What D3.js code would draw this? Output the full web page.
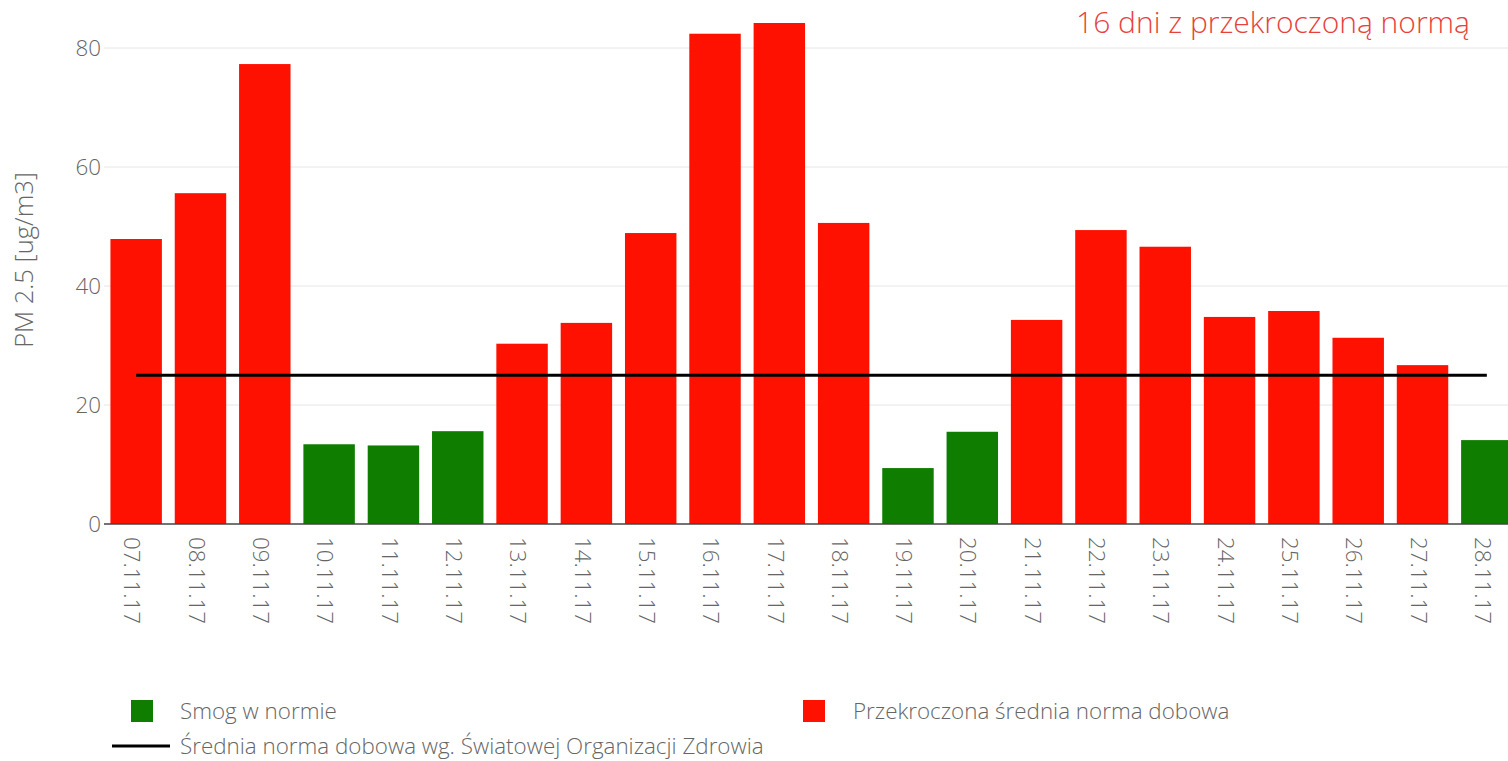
<!DOCTYPE html>
<html>
<head>
<meta charset="utf-8">
<script src="https://cdn.jsdelivr.net/npm/d3@7"></script>
<style>
  body { margin: 0; background: #fff; overflow: hidden; }
  text { font-family: "Open Sans", sans-serif; font-weight: 300; }
</style>
</head>
<body>
<svg id="chart" width="1508" height="761"></svg>
<script>
const days = ["07.11.17", "08.11.17", "09.11.17", "10.11.17", "11.11.17", "12.11.17", "13.11.17",
    "14.11.17", "15.11.17", "16.11.17", "17.11.17", "18.11.17", "19.11.17", "20.11.17", "21.11.17",
    "22.11.17", "23.11.17", "24.11.17", "25.11.17", "26.11.17", "27.11.17", "28.11.17"];
const pm25 = [47.9, 55.6, 77.3, 13.4, 13.2, 15.6, 30.3, 33.8, 48.9, 82.4, 84.2, 50.6,
    9.4, 15.5, 34.3, 49.4, 46.6, 34.8, 35.8, 31.3, 26.7, 14.1];
const norm = 25;
const yTicks = [0, 20, 40, 60, 80];
const title = "16 dni z przekroczoną normą";
const legendLabels = {
    ok: "Smog w normie",
    over: "Przekroczona średnia norma dobowa",
    line: "Średnia norma dobowa wg. Światowej Organizacji Zdrowia"
};

const colOk = "#0e7d00", colOver = "#ff1100";

const svg = d3.select("#chart");

const margin = { top: 0, left: 104 };
const plotRight = 1519, plotBottom = 524;

const x = d3.scaleBand()
    .domain(days)
    .range([margin.left, plotRight])
    .paddingInner(0.2)
    .paddingOuter(0.1);

const y = d3.scaleLinear()
    .domain([0, 80])
    .range([plotBottom, 48]);

// grid
svg.append("g")
    .selectAll("line")
    .data(yTicks.filter(d => d > 0))
    .join("line")
    .attr("x1", margin.left).attr("x2", 1508)
    .attr("y1", d => y(d)).attr("y2", d => y(d))
    .attr("stroke", "#e6e6e6").attr("stroke-width", 1);

// bars
svg.append("g")
    .selectAll("rect")
    .data(days)
    .join("rect")
    .attr("x", d => x(d))
    .attr("width", x.bandwidth())
    .attr("y", (d, i) => y(pm25[i]))
    .attr("height", (d, i) => y(0) - y(pm25[i]))
    .attr("fill", (d, i) => pm25[i] > norm ? colOver : colOk);

// zero line
svg.append("line")
    .attr("x1", margin.left).attr("x2", 1508)
    .attr("y1", y(0)).attr("y2", y(0))
    .attr("stroke", "#444").attr("stroke-width", 1.5);

// norm line
svg.append("line")
    .attr("x1", x(days[0]) + x.bandwidth() / 2)
    .attr("x2", x(days[days.length - 1]) + x.bandwidth() / 2)
    .attr("y1", y(norm)).attr("y2", y(norm))
    .attr("stroke", "#000").attr("stroke-width", 3);

// y axis
const yAxis = svg.append("g")
    .attr("transform", `translate(${margin.left},0)`)
    .call(d3.axisLeft(y).tickValues(yTicks).tickSize(0).tickPadding(3));
yAxis.select(".domain").remove();
yAxis.selectAll("text")
    .attr("fill", "#666").style("font-size", "22.4px")
    .style("font-family", "Open Sans").style("font-weight", 300);

svg.append("text")
    .attr("transform", `translate(33,260) rotate(-90)`)
    .attr("text-anchor", "middle")
    .attr("fill", "#666")
    .style("font-size", "25.5px")
    .text("PM 2.5 [ug/m3]");

// x axis
const xAxis = svg.append("g")
    .attr("transform", `translate(0,${plotBottom})`)
    .call(d3.axisBottom(x).tickSize(0));
xAxis.select(".domain").remove();
xAxis.selectAll("text")
    .attr("fill", "#666")
    .style("font-size", "22.3px")
    .style("font-family", "Open Sans")
    .style("font-weight", 300)
    .attr("text-anchor", "start")
    .attr("y", 0)
    .attr("dy", "0.35em")
    .attr("transform", "translate(-4,13) rotate(90)");

// title
svg.append("text")
    .attr("x", 1470).attr("y", 33)
    .attr("text-anchor", "end")
    .attr("fill", "#e8413b")
    .style("font-size", "30px")
    .text(title);

// legend
const leg = svg.append("g").style("font-size", "22.4px").attr("fill", "#666");
leg.append("rect").attr("x", 131).attr("y", 700).attr("width", 22).attr("height", 22).attr("fill", colOk);
leg.append("text").attr("x", 180).attr("y", 719).text(legendLabels.ok);
leg.append("rect").attr("x", 803).attr("y", 700).attr("width", 22).attr("height", 22).attr("fill", colOver);
leg.append("text").attr("x", 853).attr("y", 719).text(legendLabels.over);
leg.append("line").attr("x1", 112).attr("x2", 170).attr("y1", 746).attr("y2", 746)
    .attr("stroke", "#000").attr("stroke-width", 3);
leg.append("text").attr("x", 180).attr("y", 754).text(legendLabels.line);
</script>
</body>
</html>
